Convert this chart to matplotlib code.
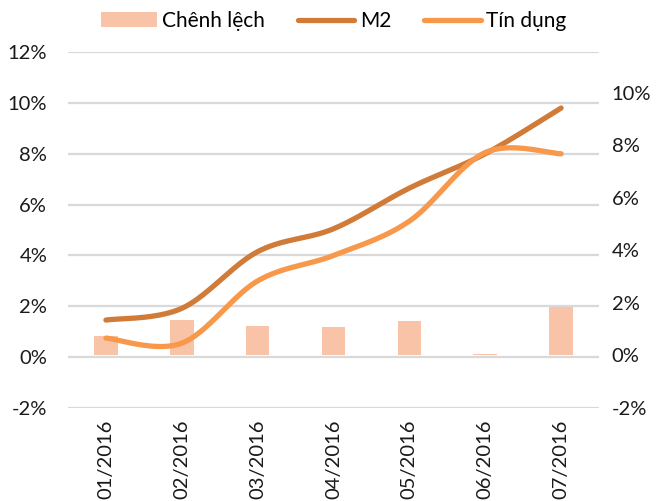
import numpy as np
import matplotlib
matplotlib.use("Agg")
import matplotlib.pyplot as plt
from matplotlib.ticker import FuncFormatter

months = ["01/2016", "02/2016", "03/2016", "04/2016", "05/2016", "06/2016", "07/2016"]
m2 = [1.46, 1.92, 4.15, 5.05, 6.65, 8.0, 9.8]
tin_dung = [0.75, 0.55, 3.0, 4.0, 5.35, 8.05, 8.0]
chenh_lech = [0.74, 1.36, 1.12, 1.07, 1.32, 0.07, 1.86]

plt.rcParams['font.family'] = ['Lato', 'DejaVu Sans']


def smooth(xs, ys, n=40):
    # excel-like smoothed line (catmull-rom bezier through the points)
    xs = np.asarray(xs, float)
    ys = np.asarray(ys, float)
    px, py = [], []
    for i in range(len(xs) - 1):
        x0, y0 = (xs[i - 1], ys[i - 1]) if i > 0 else (xs[i], ys[i])
        x3, y3 = (xs[i + 2], ys[i + 2]) if i + 2 < len(xs) else (xs[i + 1], ys[i + 1])
        c1x = xs[i] + (xs[i + 1] - x0) / 6
        c1y = ys[i] + (ys[i + 1] - y0) / 6
        c2x = xs[i + 1] - (x3 - xs[i]) / 6
        c2y = ys[i + 1] - (y3 - ys[i]) / 6
        t = np.linspace(0, 1, n)
        a, b, c, d = (1 - t) ** 3, 3 * (1 - t) ** 2 * t, 3 * (1 - t) * t ** 2, t ** 3
        px.extend(a * xs[i] + b * c1x + c * c2x + d * xs[i + 1])
        py.extend(a * ys[i] + b * c1y + c * c2y + d * ys[i + 1])
    return px, py


x = np.arange(len(months))
pct = FuncFormatter(lambda v, p: f"{v:.0f}%")

fig = plt.figure(figsize=(6.6, 5.01), dpi=100)
ax = fig.add_axes([0.103, 0.1856, 0.8046, 0.7104])
ax2 = ax.twinx()

ax2.bar(x, chenh_lech, width=0.31, color="#F9C3A8", label="Chênh lệch", zorder=1)

sx, sy = smooth(x, m2)
ax.plot(sx, sy, color="#D07B38", lw=3.8, solid_capstyle="round", label="M2", zorder=3)
sx, sy = smooth(x, tin_dung)
ax.plot(sx, sy, color="#F7984A", lw=3.8, solid_capstyle="round", label="Tín dụng", zorder=3)

ax.set_zorder(2)
ax.patch.set_visible(False)

ax.set_xlim(-0.5, len(months) - 0.5)
ax.set_ylim(-2, 12)
ax.set_yticks(range(-2, 13, 2))
ax.yaxis.set_major_formatter(pct)
ax2.set_ylim(-2, 11.55)
ax2.set_yticks(range(-2, 11, 2))
ax2.yaxis.set_major_formatter(pct)

ax.set_xticks(x)
ax.set_xticklabels(months, rotation=90, fontsize=14.5)
ax.grid(axis="y", color="#D9D9D9", lw=1.6)
ax.set_axisbelow(True)
for a in (ax, ax2):
    for s in a.spines.values():
        s.set_visible(False)
    a.tick_params(length=0, labelsize=14.5, colors="#1a1a1a")
ax.tick_params(axis="y", pad=15)
ax2.tick_params(axis="y", pad=9)
ax.tick_params(axis="x", pad=8)

h1, l1 = ax2.get_legend_handles_labels()
h2, l2 = ax.get_legend_handles_labels()
fig.legend(h1 + h2, l1 + l2, loc="center", bbox_to_anchor=(0.505, 0.958), ncol=3,
           frameon=False, fontsize=15, handlelength=2.7, handletextpad=0.25,
           columnspacing=1.6)

plt.savefig("out.png", dpi=100)
plt.close()
